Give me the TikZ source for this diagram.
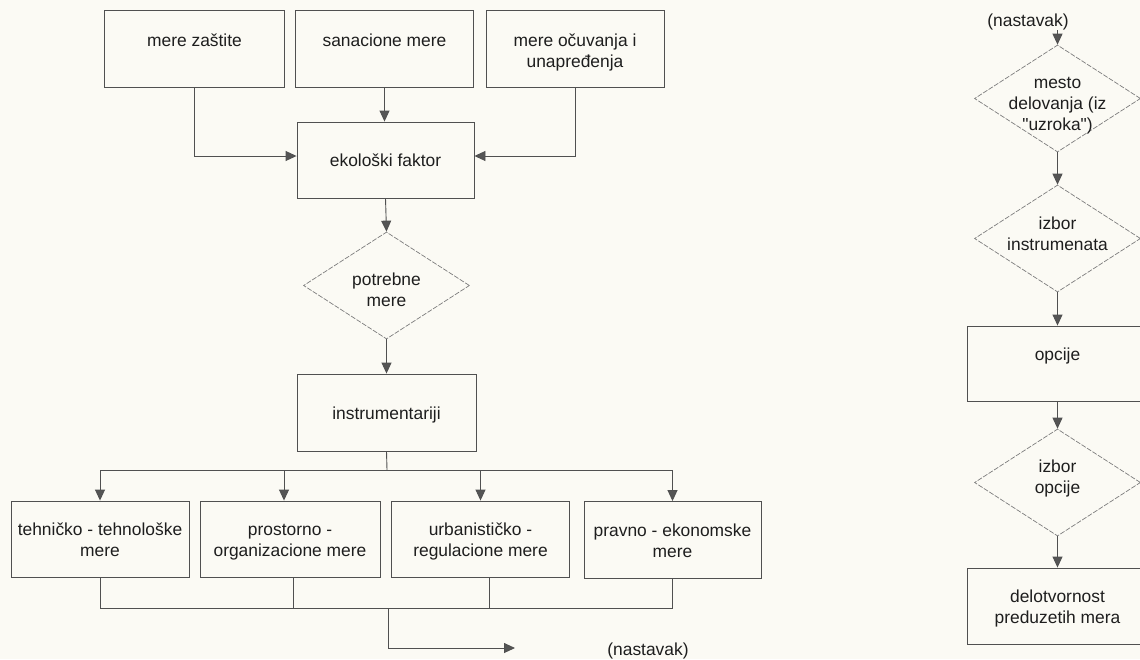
\documentclass[tikz,border=0pt]{standalone}
\usepackage{fontspec}
\setmainfont{Liberation Sans}[Ligatures=TeXOff]
\usetikzlibrary{shapes.geometric,arrows.meta}
\definecolor{bg}{RGB}{251,250,244}
\definecolor{ln}{RGB}{80,80,80}
\definecolor{tx}{RGB}{30,30,30}
\definecolor{ah}{RGB}{85,85,85}
\newcommand\shiftedtext[2]{\raisebox{#1}[\height][\depth]{\begin{tabular}{@{}c@{}}#2\end{tabular}}}
\begin{document}
\begin{tikzpicture}[x=1pt,y=-1pt,
  font=\fontsize{17.4}{21}\selectfont, text=tx,
  box/.style={draw=ln, line width=0.9pt, rectangle, inner sep=0pt, align=center},
  dia/.style={draw=ln!75, line width=0.7pt, diamond, inner sep=0pt,
              minimum width=166pt, minimum height=107pt, dash pattern=on 5pt off 1.5pt},
  lbl/.style={align=center, inner sep=0pt},
  con/.style={draw=ln, line width=0.9pt},
  arr/.style={draw=ln, line width=0.9pt, -{Triangle[length=11pt,width=10pt,fill=ah]}}]
\useasboundingbox (0,0) rectangle (1140,659);
\clip (0,0) rectangle (1140,659);
\fill[bg] (0,0) rectangle (1140,659);

% left column
\node[box, minimum width=180pt, minimum height=77pt] (z1) at (194.5,49) {\shiftedtext{7pt}{mere zaštite}};
\node[box, minimum width=178pt, minimum height=77pt] (z2) at (384.5,49) {\shiftedtext{7pt}{sanacione mere}};
\node[box, minimum width=178pt, minimum height=77pt] (z3) at (575,49) {\shiftedtext{-4pt}{mere očuvanja i\\unapređenja}};
\node[box, minimum width=177pt, minimum height=76pt] (eko) at (385.5,160) {ekološki faktor};
\node[dia] (pm) at (386.5,285.5) {};
\node[lbl] (pmt) at (386.5,289.5) {potrebne\\mere};
\node[box, minimum width=179pt, minimum height=77pt] (ins) at (386.5,412.5) {\shiftedtext{-3pt}{instrumentariji}};
\node[box, minimum width=178pt, minimum height=76pt] (b1) at (100,539) {\shiftedtext{-3pt}{tehničko - tehnološke\\mere}};
\node[box, minimum width=180pt, minimum height=76pt] (b2) at (290,539) {\shiftedtext{-3pt}{prostorno -\\organizacione mere}};
\node[box, minimum width=178pt, minimum height=76pt] (b3) at (480.5,539) {\shiftedtext{-3pt}{urbanističko -\\regulacione mere}};
\node[box, minimum width=177pt, minimum height=77pt] (b4) at (672.5,540) {\shiftedtext{-3pt}{pravno - ekonomske\\mere}};
\node[lbl] (n1) at (648,651) {(nastavak)};

\coordinate (br) at (387,470);
\coordinate (jn) at (388,608);
\coordinate (out) at (515,648);

\draw[arr] (z1.south) |- ([yshift=4pt]eko.west);
\draw[arr] (z3.south) |- ([yshift=4pt]eko.east);
\draw[arr] (z2.south) -- (z2.south |- eko.north);
\draw[arr] (eko.south) -- (pm.north);
\draw[arr] (pm.south) -- (ins.north);
\draw[con] (ins.south) -- (br);
\draw[arr] (br) -| (b1.north);
\draw[arr] (br) -| ([xshift=-6pt]b2.north);
\draw[arr] (br) -| (b3.north);
\draw[arr] (br) -| (b4.north);
\draw[con] (b1.south) |- (jn);
\draw[con] (b4.south) |- (jn);
\draw[con] ([xshift=3pt]b2.south) -- ([xshift=3pt]b2.south |- jn);
\draw[con] ([xshift=9pt]b3.south) -- ([xshift=9pt]b3.south |- jn);
\draw[arr] (jn) |- (out);

% right column
\node[lbl] (n2) at (1028,22) {(nastavak)};
\node[dia] (d1) at (1057.5,98.5) {};
\node[lbl] (d1t) at (1057.5,106) {mesto\\delovanja (iz\\"uzroka")};
\node[dia] (d2) at (1057.5,238.5) {};
\node[lbl] (d2t) at (1057.5,234) {izbor\\instrumenata};
\node[box, minimum width=181pt, minimum height=75pt] (op) at (1057.5,363.5) {\shiftedtext{7pt}{opcije}};
\node[dia] (d3) at (1057.5,482.5) {};
\node[lbl] (d3t) at (1057.5,478) {izbor\\opcije};
\node[box, minimum width=181pt, minimum height=76pt] (del) at (1057.5,606) {\shiftedtext{-3pt}{delotvornost\\preduzetih mera}};

\draw[arr] (n2.south -| d1.north) -- (d1.north);
\draw[arr] (d1.south) -- (d2.north);
\draw[arr] (d2.south) -- (op.north);
\draw[arr] (op.south) -- (d3.north);
\draw[arr] (d3.south) -- (del.north);
\end{tikzpicture}
\end{document}
